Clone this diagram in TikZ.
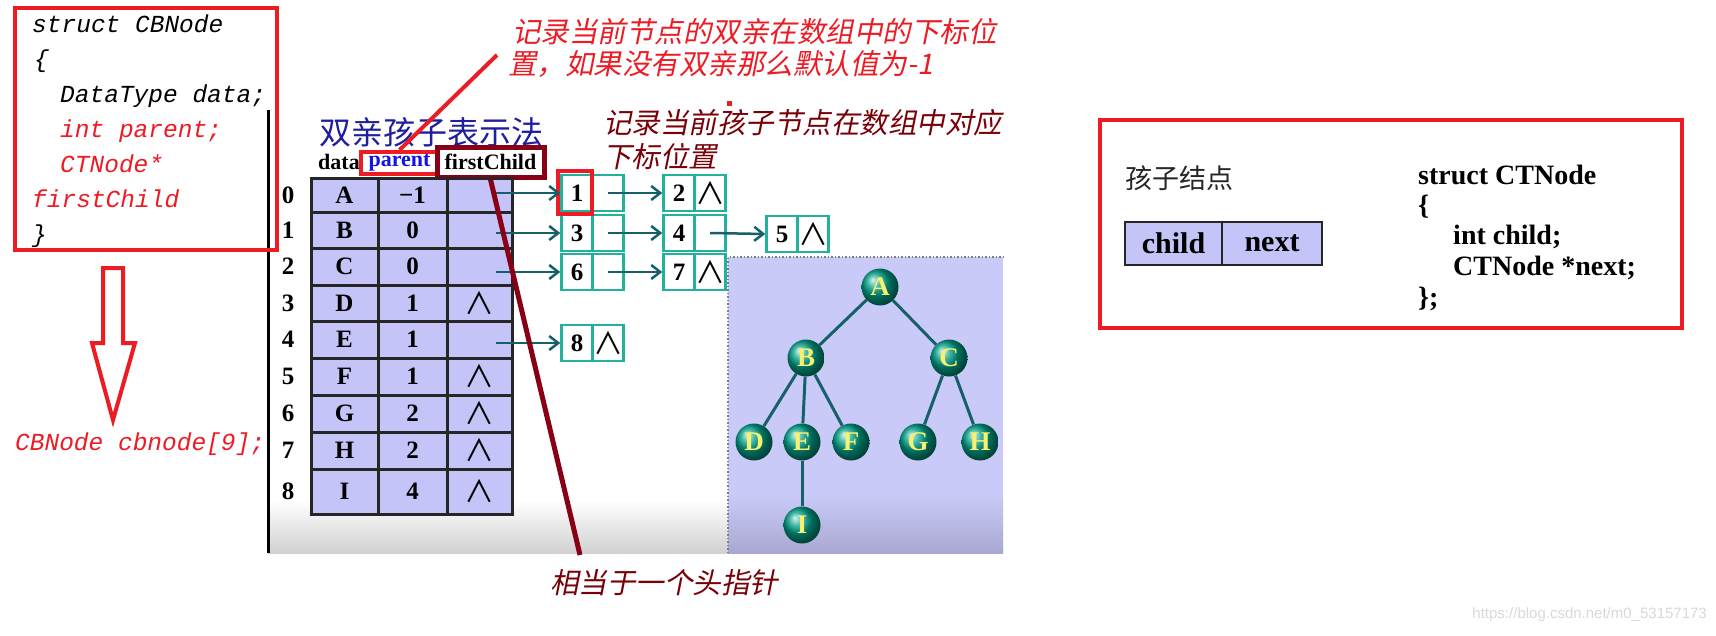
\documentclass[tikz,border=0pt]{standalone}
\usepackage{fontspec}
\setmainfont{Liberation Serif}
\newfontfamily\codefont{Liberation Mono}
\newfontfamily\cjk{Noto Sans CJK SC}
\newfontfamily\cjksl{Noto Sans CJK SC}[FakeSlant=0.2]
\newfontfamily\wmfont{Liberation Sans}
\usetikzlibrary{arrows.meta}
\definecolor{pred}{HTML}{ED1C24}
\definecolor{dred}{HTML}{880015}
\definecolor{anndred}{HTML}{7A0008}
\definecolor{lav}{HTML}{C4C4F8}
\definecolor{lavpanel}{HTML}{CACAF8}
\definecolor{lavdark}{HTML}{A8A8D2}
\definecolor{tealb}{HTML}{22B29C}
\definecolor{tealarr}{HTML}{16606A}
\definecolor{titleblue}{HTML}{1E1E9E}
\definecolor{pblue}{HTML}{1414E6}
\definecolor{ballc}{HTML}{00A088}
\definecolor{yel}{HTML}{F8F070}
\begin{document}
\begin{tikzpicture}[x=1pt,y=-1pt,
  tcell/.style={draw=black!85, line width=3pt, fill=lav, inner sep=0pt, font=\fontsize{25}{25}\selectfont\bfseries},
  idx/.style={inner sep=0pt, font=\fontsize{25}{25}\selectfont\bfseries},
  wedgeT/.style={inner sep=0pt, font=\fontsize{30}{30}\selectfont\cjk},
  lcell/.style={draw=tealb, line width=2.5pt, fill=white, minimum width=31pt, minimum height=36pt, inner sep=0pt, font=\fontsize{25}{25}\selectfont\bfseries},
  arr/.style={draw=tealarr, line width=2.5pt, -{Straight Barb[length=9pt,width=14pt,line width=2.5pt]}},
  ball/.style={circle, minimum size=37pt, inner sep=0pt, shading=ball, ball color=ballc, text=yel, font=\fontsize{27}{27}\selectfont\bfseries},
  tedge/.style={draw=tealarr, line width=3pt},
  code/.style={anchor=base west, inner sep=0pt, font=\fontsize{24.5}{28}\selectfont\codefont\itshape},
  ctcode/.style={anchor=base west, inner sep=0pt, font=\fontsize{28}{30}\selectfont\bfseries},
  ann/.style={anchor=west, inner sep=0pt, font=\fontsize{28.5}{30}\selectfont\cjksl},
  hdr/.style={inner sep=0pt, font=\fontsize{22}{24}\selectfont\bfseries}]
\useasboundingbox (0,0) rectangle (1716,635);
\fill[white] (0,0) rectangle (1716,635);
% screenshot background
\fill[white] (268,110) rectangle (1003,553);
\shade[top color=white, bottom color=black!18] (268,500) rectangle (1003,553);
\fill[lavpanel] (728,257) rectangle (1003,553);
\shade[top color=lavpanel, bottom color=lavdark] (728,495) rectangle (1003,553);
\draw[gray, dotted, line width=1.5pt] (728,553) -- (728,257) -- (1003,257);
\draw[black, line width=3pt] (268,110) -- (268,553);

% left struct
\node[draw=pred, line width=4pt, minimum width=262pt, minimum height=242pt, inner sep=0pt] (cbbox) at (146,129) {};
\node[code] (l1) at (32,32) {struct CBNode};
\node[code] (l2) at (34,67) {\{};
\node[code] (l3) at (60,102) {DataType data;};
\node[code, text=pred] (l4) at (60,137) {int parent;};
\node[code, text=pred] (l5) at (60,172) {CTNode*};
\node[code, text=pred] (l6) at (32,207) {firstChild};
\node[code] (l7) at (32,242) {\}};
\draw[pred, line width=4pt, line join=miter] (103,268) -- (123,268) -- (123,343) -- (135,343) -- (113,420) -- (92,343) -- (103,343) -- cycle;
\node[code, text=pred] (arrdecl) at (15,450) {CBNode cbnode[9];};

% title and headers
\node[inner sep=0pt, text=titleblue, font=\fontsize{32}{34}\selectfont\cjk] (title) at (431,132) {双亲孩子表示法};
\node[hdr] (hdata) at (339,162) {data};
\node[hdr, draw=pred, line width=4pt, text=pblue, minimum width=77pt, minimum height=22pt] (pbox) at (399.5,163) {parent};
\node[hdr, draw=dred, line width=5pt, minimum width=107pt, minimum height=30pt] (fbox) at (490.5,162) {firstChild};

% table
\foreach \t/\b/\d/\p [count=\i from 0] in {178/212/A/−1, 212/248/B/0, 248/285/C/0, 285/321/D/1, 321/358/E/1, 358/395/F/1, 395/432/G/2, 432/469/H/2, 469/514/I/4}{
  \pgfmathsetmacro\h{\b-\t}
  \pgfmathsetmacro\m{(\t+\b)/2}
  \node[tcell, minimum width=67pt, minimum height=\h pt] (d\i) at (344.5,\m) {\d};
  \node[tcell, minimum width=69pt, minimum height=\h pt] (p\i) at (412.5,\m) {\p};
  \node[tcell, minimum width=65pt, minimum height=\h pt] (f\i) at (479.5,\m) {};
  \node[idx] (r\i) at (288,\m) {\i};
}
\foreach \i in {3,5,6,7,8} \node[wedgeT] (w\i) at (f\i.center) {∧};

% child lists
\node[lcell] (n1a) at (577,193) {1};
\node[lcell] (n1b) at (608,193) {};
\node[lcell] (n2a) at (679,193) {2};
\node[lcell, font=\fontsize{30}{30}\selectfont\cjk] (n2b) at (710,193) {∧};
\node[lcell] (n3a) at (577,233) {3};
\node[lcell] (n3b) at (608,233) {};
\node[lcell] (n4a) at (679,233) {4};
\node[lcell] (n4b) at (710,233) {};
\node[lcell] (n5a) at (782,234) {5};
\node[lcell, font=\fontsize{30}{30}\selectfont\cjk] (n5b) at (813,234) {∧};
\node[lcell] (n6a) at (577,272) {6};
\node[lcell] (n6b) at (608,272) {};
\node[lcell] (n7a) at (679,272) {7};
\node[lcell, font=\fontsize{30}{30}\selectfont\cjk] (n7b) at (710,272) {∧};
\node[lcell] (n8a) at (577,343) {8};
\node[lcell, font=\fontsize{30}{30}\selectfont\cjk] (n8b) at (608,343) {∧};
\node[draw=pred, line width=4pt, minimum width=34pt, minimum height=43pt, inner sep=0pt] (onebox) at (575,192.5) {};

\coordinate (s0) at (496,193);
\coordinate (s1) at (496,233);
\coordinate (s2) at (496,272);
\coordinate (s4) at (496,343);
\draw[arr] (s0) -- (n1a.west);
\draw[arr] (s1) -- (n3a.west);
\draw[arr] (s2) -- (n6a.west);
\draw[arr] (s4) -- (n8a.west);
\draw[arr] (n1b.center) -- (n2a.west);
\draw[arr] (n3b.center) -- (n4a.west);
\draw[arr] (n4b.center) -- (n5a.west);
\draw[arr] (n6b.center) -- (n7a.west);

% tree
\node[ball] (tA) at (880,287) {A};
\node[ball] (tB) at (806,358) {B};
\node[ball] (tC) at (949,358) {C};
\node[ball] (tD) at (754,442) {D};
\node[ball] (tE) at (802,442) {E};
\node[ball] (tF) at (851,442) {F};
\node[ball] (tG) at (918,442) {G};
\node[ball] (tH) at (980,442) {H};
\node[ball] (tI) at (802,525) {I};
\draw[tedge] (tA) -- (tB);
\draw[tedge] (tA) -- (tC);
\draw[tedge] (tB) -- (tD);
\draw[tedge] (tB) -- (tE);
\draw[tedge] (tB) -- (tF);
\draw[tedge] (tC) -- (tG);
\draw[tedge] (tC) -- (tH);
\draw[tedge] (tE) -- (tI);

% annotations
\node[ann, text=pred] (a1) at (512,32) {记录当前节点的双亲在数组中的下标位};
\node[ann, text=pred] (a2) at (508,64) {置，如果没有双亲那么默认值为-1};
\coordinate (c1) at (497,55);
\draw[pred, line width=4pt] (pbox.north) -- (c1);
\fill[pred] (727,101) rectangle (732,106);
\node[ann, text=anndred] (b1) at (603,123) {记录当前孩子节点在数组中对应};
\node[ann, text=anndred] (b2) at (603,157) {下标位置};
\node[ann, text=anndred] (hp) at (550,583) {相当于一个头指针};
\coordinate (c2) at (580,555);
\draw[dred, line width=5pt] (fbox.south) -- (c2);

% right box
\node[draw=pred, line width=4.5pt, minimum width=582pt, minimum height=208pt, inner sep=0pt] (ctbox) at (1391,224) {};
\node[anchor=west, inner sep=0pt, text=black!85, font=\fontsize{27}{28}\selectfont\cjk] (kz) at (1125,178) {孩子结点};
\node[tcell, line width=2.5pt, minimum width=97pt, minimum height=43pt, font=\fontsize{30}{30}\selectfont\bfseries] (cc) at (1173.5,243.5) {child};
\node[tcell, line width=2.5pt, minimum width=100pt, minimum height=43pt, font=\fontsize{30}{30}\selectfont\bfseries] (cn) at (1272,243.5) {next};
\node[ctcode] (k1) at (1418,184) {struct CTNode};
\node[ctcode] (k2) at (1418,214) {\{};
\node[ctcode] (k3) at (1453,244) {int child;};
\node[ctcode] (k4) at (1453,275) {CTNode *next;};
\node[ctcode] (k5) at (1418,306) {\};};

\node[anchor=east, inner sep=0pt, text=black!15, font=\fontsize{15}{15}\selectfont\wmfont] (wm) at (1707,615) {https://blog.csdn.net/m0\_53157173};
\end{tikzpicture}
\end{document}
